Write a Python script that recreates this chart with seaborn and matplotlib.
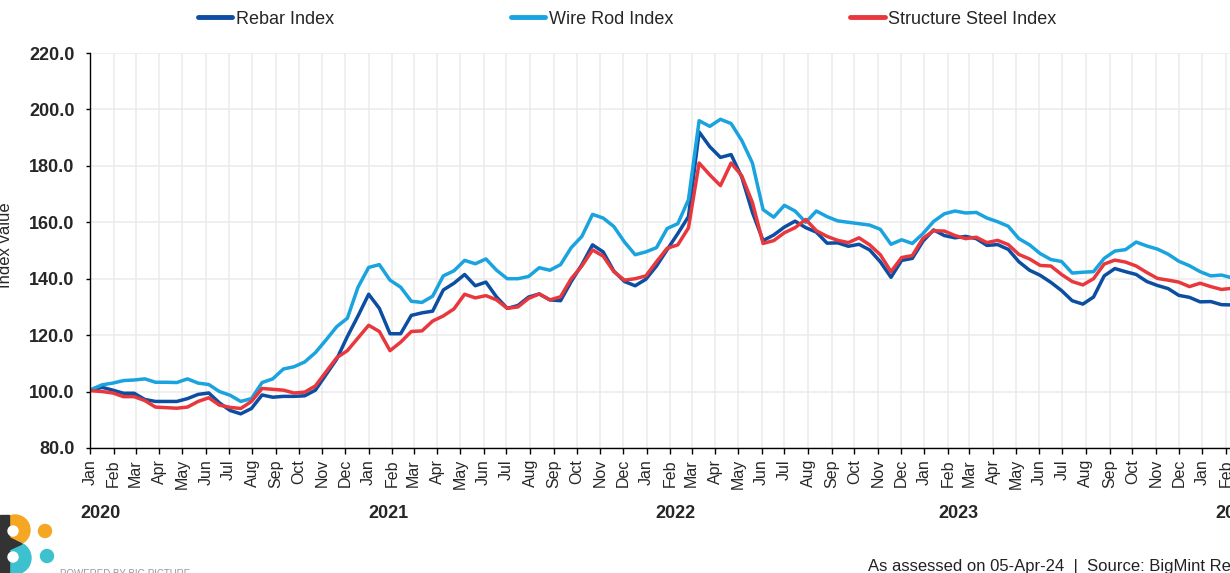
import pandas as pd
import matplotlib.pyplot as plt
import matplotlib.dates as mdates
import matplotlib.transforms as mtransforms
from matplotlib.patches import Circle, Rectangle, Polygon
import seaborn as sns

# weekly index, read every second week (Jan 2020 - Feb 2024)
dates = pd.date_range('2020-01-03', periods=108, freq='14D')

rebar = [
    100.6, 101.5, 100.5, 99.4, 99.4, 97.2, 96.5, 96.5, 96.5, 97.5,
    99.0, 99.5, 96.0, 93.3, 92.1, 94.0, 98.8, 98.0, 98.3, 98.3,
    98.5, 100.5, 106.0, 111.5, 119.5, 126.8, 134.5, 129.5, 120.5, 120.5,
    127.0, 127.9, 128.5, 136.0, 138.4, 141.5, 137.5, 138.8, 133.5, 129.5,
    130.5, 133.5, 134.6, 132.5, 132.2, 139.0, 145.0, 152.0, 149.5, 142.7,
    139.0, 137.5, 139.8, 144.5, 150.3, 156.0, 162.0, 192.0, 186.8, 183.0,
    184.0, 176.0, 163.5, 153.5, 155.5, 158.3, 160.4, 158.1, 156.5, 152.6,
    152.7, 151.5, 152.2, 150.2, 146.0, 140.5, 146.5, 147.2, 153.3, 157.3,
    155.3, 154.5, 155.0, 154.2, 151.8, 152.1, 150.4, 146.0, 143.0, 141.2,
    138.7, 135.8, 132.2, 131.0, 133.5, 141.0, 143.6, 142.5, 141.5, 139.0,
    137.6, 136.5, 134.1, 133.4, 131.8, 131.9, 130.8, 130.7,
]

wire_rod = [
    100.8, 102.4, 103.0, 103.9, 104.1, 104.5, 103.3, 103.3, 103.2, 104.5,
    103.0, 102.5, 100.0, 98.7, 96.5, 97.5, 103.2, 104.5, 108.0, 108.8,
    110.5, 113.8, 118.3, 123.0, 126.0, 137.0, 144.0, 145.0, 139.5, 137.0,
    132.0, 131.6, 133.8, 141.0, 142.8, 146.5, 145.3, 147.0, 143.0, 140.0,
    140.0, 140.8, 143.9, 143.0, 145.0, 151.0, 155.0, 162.8, 161.5, 158.5,
    153.0, 148.5, 149.5, 151.0, 157.8, 159.5, 168.0, 196.0, 194.0, 196.5,
    195.0, 189.0, 181.0, 164.5, 161.8, 166.0, 164.0, 160.0, 164.0, 162.0,
    160.5, 160.0, 159.5, 159.0, 157.5, 152.2, 153.8, 152.5, 156.0, 160.3,
    163.0, 164.0, 163.3, 163.5, 161.5, 160.2, 158.6, 154.2, 152.0, 148.9,
    146.8, 146.1, 142.0, 142.3, 142.5, 147.2, 149.8, 150.3, 153.0, 151.6,
    150.5, 148.7, 146.2, 144.6, 142.5, 141.0, 141.3, 140.3,
]

structure = [
    100.3, 100.0, 99.5, 98.2, 98.2, 96.8, 94.5, 94.3, 94.1, 94.5,
    96.5, 97.8, 95.2, 94.4, 94.0, 96.5, 101.1, 100.8, 100.5, 99.5,
    99.8, 102.0, 107.0, 112.0, 114.5, 119.0, 123.5, 121.3, 114.5, 117.5,
    121.3, 121.5, 125.0, 126.8, 129.3, 134.5, 133.2, 134.0, 132.5, 129.5,
    130.0, 133.0, 134.6, 132.5, 133.6, 140.0, 144.5, 150.2, 148.0, 142.5,
    139.5, 140.0, 141.0, 146.0, 150.8, 152.0, 158.0, 181.0, 176.8, 173.0,
    181.0, 176.5, 167.0, 152.5, 153.5, 156.3, 158.1, 161.0, 157.0, 155.0,
    153.6, 152.8, 154.5, 152.0, 148.5, 142.5, 147.5, 148.2, 154.3, 157.0,
    156.9, 155.3, 154.2, 154.7, 152.8, 153.6, 152.1, 148.6, 147.0, 144.7,
    144.5, 141.5, 139.0, 137.8, 140.0, 145.2, 146.6, 145.9, 144.5, 142.2,
    140.1, 139.5, 138.8, 137.2, 138.4, 137.2, 136.2, 136.6,
]

series_names = ['Rebar Index', 'Wire Rod Index', 'Structure Steel Index']
colors = {'Rebar Index': '#0B4EA2', 'Wire Rod Index': '#19A3DF',
          'Structure Steel Index': '#E8383D'}
years = ['2020', '2021', '2022', '2023', '2024']
year_pos = ['2020-01-15', '2021-01-27', '2022-02-08', '2023-02-14', '2024-02-14']

df = pd.DataFrame({'date': dates, 'Rebar Index': rebar,
                   'Wire Rod Index': wire_rod, 'Structure Steel Index': structure})
long = df.melt(id_vars='date', var_name='series', value_name='value')

sns.set_style("white")
plt.rcParams['font.family'] = ['Liberation Sans', 'DejaVu Sans']

fig = plt.figure(figsize=(12.3, 5.73), dpi=100)
# axes runs past the right edge, like the cropped original
x0 = pd.Timestamp('2020-01-01')
x1 = pd.Timestamp('2024-04-15')
w_px = (x1 - x0).days * 0.7614
ax = fig.add_axes([90 / 1230, 125 / 573, w_px / 1230, 395 / 573])

sns.lineplot(data=long, x='date', y='value', hue='series', hue_order=series_names,
             palette=colors, linewidth=2.5, ax=ax)

ax.set_xlim(x0, x1)
ax.set_ylim(80, 220)
ax.set_yticks(range(80, 221, 20))
ax.yaxis.set_major_formatter(plt.FuncFormatter(lambda v, p: f'{v:.1f}'))
ax.xaxis.set_major_locator(mdates.MonthLocator())
ax.xaxis.set_major_formatter(mdates.DateFormatter('%b'))
ax.grid(True, color='#EBEBEB', linewidth=1.1)
ax.set_axisbelow(True)
for s in ['top', 'right']:
    ax.spines[s].set_visible(False)
for s in ['left', 'bottom']:
    ax.spines[s].set_color('black')
    ax.spines[s].set_linewidth(1.0)
ax.tick_params(axis='x', rotation=90, labelsize=11.5, length=4, width=1,
               color='black', pad=4, bottom=True)
ax.tick_params(axis='y', labelsize=13, length=3, width=1, color='black', pad=8, left=True)
for lbl in ax.get_yticklabels():
    lbl.set_fontweight('bold')
ax.set_xlabel('')
ax.set_ylabel('')

handles, labels = ax.get_legend_handles_labels()
ax.get_legend().remove()
leg = fig.legend(handles, labels, loc='center left', bbox_to_anchor=(198 / 1230, 554 / 573),
                 ncol=3, frameon=False, fontsize=13, handlelength=1.9,
                 handletextpad=0.2, columnspacing=9.8, borderaxespad=0, borderpad=0)
for line in leg.get_lines():
    line.set_linewidth(3.5)

# year labels under the month ticks
trans = mtransforms.blended_transform_factory(ax.transData, fig.transFigure)
for yr, pos in zip(years, year_pos):
    ax.text(pd.Timestamp(pos), 59 / 573, yr, transform=trans, ha='center', va='center',
            fontsize=13, fontweight='bold', clip_on=False)

fig.text(6 / 1230, 328 / 573, 'Index value', rotation=90, ha='center', va='center',
         fontsize=12)
fig.text(868 / 1230, 7 / 573, 'As assessed on 05-Apr-24  |  Source: BigMint Research',
         ha='left', va='center', fontsize=12, color='#222222')

# small logo in the corner
lax = fig.add_axes([0, 0, 60 / 1230, 60 / 573])
lax.set_xlim(0, 60)
lax.set_ylim(0, 60)
lax.axis('off')
lax.add_patch(Circle((15, 43), 15, color='#F5A623'))
lax.add_patch(Circle((15, 15), 16, color='#3EC1CF'))
lax.add_patch(Rectangle((0, 0), 9, 58, color='#333333'))
lax.add_patch(Polygon([(0, 40), (22, 29), (0, 19)], color='#333333'))
lax.add_patch(Circle((13, 42), 5, color='white'))
lax.add_patch(Circle((13, 16), 5, color='white'))
lax.add_patch(Circle((45, 42), 6.5, color='#F5A623'))
lax.add_patch(Circle((47, 17), 6.5, color='#3EC1CF'))
fig.text(60 / 1230, 4 / 573, 'POWERED BY BIG PICTURE', ha='left', va='top',
         fontsize=7, color='#999999')

plt.savefig('out.png', dpi=100)
